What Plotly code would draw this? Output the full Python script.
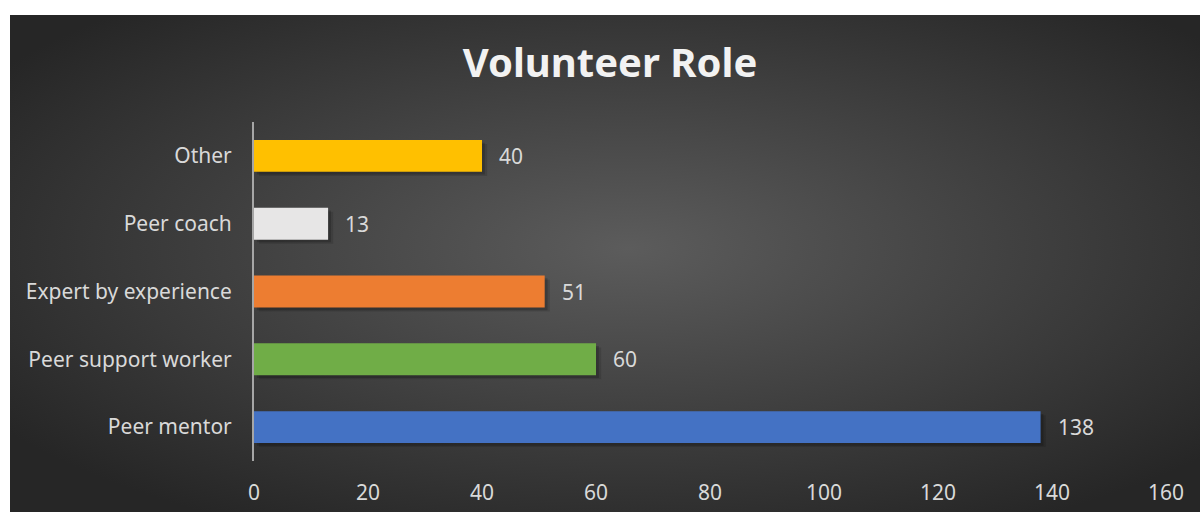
import plotly.graph_objects as go
import base64

categories = ["Peer mentor", "Peer support worker", "Expert by experience", "Peer coach", "Other"]
values = [138, 60, 51, 13, 40]
colors = ["#4472C4", "#70AD47", "#ED7D31", "#E7E6E6", "#FFC000"]
x_ticks = [0, 20, 40, 60, 80, 100, 120, 140, 160]

W, H = 1200, 512
L, R, T, B = 254, 34, 122, 51
pw, ph = W - L - R, H - T - B
BAR_W = 0.47

svg = (
    '<svg xmlns="http://www.w3.org/2000/svg" width="1190" height="497" viewBox="0 0 1190 497" preserveAspectRatio="none">'
    '<defs><radialGradient id="g" cx="52%" cy="47%" r="64%" gradientUnits="objectBoundingBox">'
    '<stop offset="0" stop-color="#5c5c5c"/><stop offset="1" stop-color="#262626"/></radialGradient></defs>'
    '<rect width="1190" height="497" fill="url(#g)"/></svg>'
)
src = "data:image/svg+xml;base64," + base64.b64encode(svg.encode()).decode()

font = "Noto Sans, Open Sans, sans-serif"
label_color = "#d9d9d9"

fig = go.Figure()
# soft drop shadow behind bars
for dx, dy, a in [(0.9, 0.06, 0.12), (0.5, 0.04, 0.18)]:
    fig.add_trace(go.Bar(
        y=categories, x=values, base=[dx] * len(values), orientation="h",
        marker=dict(color=f"rgba(0,0,0,{a})", line=dict(width=0)),
        width=BAR_W, offset=-BAR_W / 2 - dy, hoverinfo="skip",
    ))
fig.add_trace(go.Bar(
    y=categories, x=values, orientation="h",
    marker=dict(color=colors, line=dict(width=0)),
    width=BAR_W, offset=-BAR_W / 2,
))

annotations = [
    dict(x=v, y=c, xref="x", yref="y", text=str(v), showarrow=False,
         xanchor="left", xshift=15, font=dict(size=21, color=label_color, family=font))
    for c, v in zip(categories, values)
]

fig.update_layout(
    width=W, height=H, autosize=False,
    margin=dict(l=L, r=R, t=T, b=B, pad=0, autoexpand=False),
    paper_bgcolor="white", plot_bgcolor="rgba(0,0,0,0)",
    showlegend=False, barmode="overlay",
    title=dict(text="<b>Volunteer Role</b>", x=610 / W, xanchor="center", y=1 - 63 / H, yanchor="middle",
               font=dict(size=40, color="#f2f2f2", family=font)),
    images=[dict(source=src, xref="paper", yref="paper",
                 x=(10 - L) / pw, y=1 + (T - 15) / ph,
                 sizex=1190 / pw, sizey=497 / ph,
                 sizing="stretch", xanchor="left", yanchor="top", layer="below")],
    annotations=annotations,
    xaxis=dict(range=[0, 160], tickvals=x_ticks, showgrid=False, zeroline=False,
               showline=False, ticks="", tickfont=dict(size=21, color=label_color, family=font),
               ticklabelstandoff=17, fixedrange=True, automargin=False),
    yaxis=dict(showgrid=False, zeroline=False, showline=True, linecolor="#a6a6a6", linewidth=2,
               ticks="", tickfont=dict(size=21, color=label_color, family=font),
               ticklabelstandoff=16, range=[-0.5, 4.5], fixedrange=True, automargin=False),
)

fig.write_html(
    "out.html",
    config={"responsive": False, "displayModeBar": False},
    post_script="document.body.style.margin='0px';document.body.style.overflow='hidden';",
)
